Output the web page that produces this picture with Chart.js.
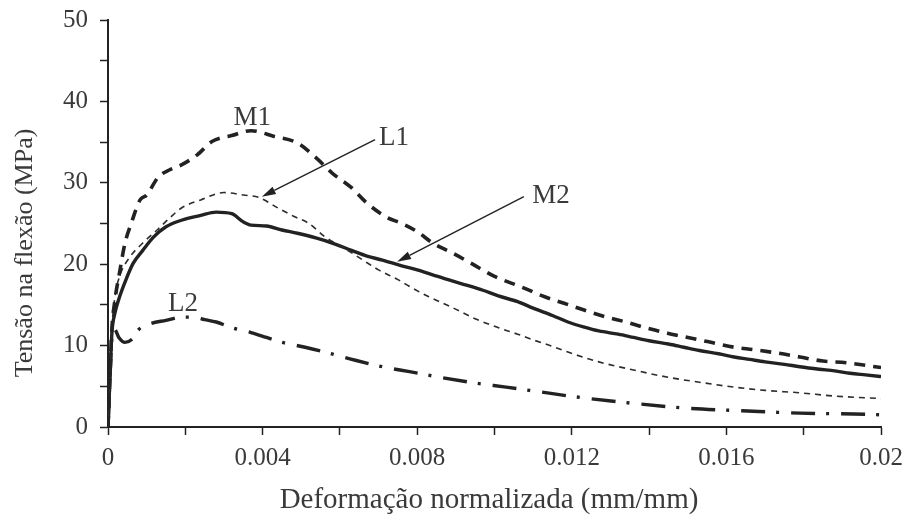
<!DOCTYPE html>
<html>
<head>
<meta charset="utf-8">
<script src="https://cdn.jsdelivr.net/npm/chart.js@4"></script>
<style>
  html, body { margin: 0; padding: 0; background: #fff; }
  #wrap { width: 908px; height: 519px; }
</style>
</head>
<body>
<div id="wrap"><canvas id="chart" width="908" height="519"></canvas></div>
<script>
'use strict';

// strain (mm/mm) / stress (MPa)
const m1X = [0, 0.00005, 0.0001, 0.00018, 0.0003, 0.00044, 0.0006, 0.00083, 0.001, 0.0013, 0.0016, 0.0019, 0.0023, 0.0027, 0.0032, 0.0037, 0.0043, 0.0049, 0.0054, 0.0058, 0.0063, 0.0067, 0.0072, 0.0076, 0.008, 0.0084, 0.0089, 0.0094, 0.01, 0.0107, 0.0113, 0.0118, 0.0123, 0.0129, 0.0134, 0.0139, 0.0145, 0.0151, 0.0156, 0.0162, 0.0167, 0.0173, 0.0179, 0.0185, 0.0191, 0.0197, 0.02];
const m1Y = [0, 6, 12, 15.6, 19.0, 22.6, 25.0, 27.9, 28.5, 30.7, 31.6, 32.2, 33.4, 35.1, 35.8, 36.4, 35.7, 34.9, 33.0, 31.2, 29.4, 27.5, 25.8, 25.0, 24.0, 22.6, 21.4, 20.1, 18.5, 17.2, 16.0, 15.2, 14.4, 13.5, 12.9, 12.2, 11.5, 10.9, 10.4, 9.8, 9.5, 9.1, 8.6, 8.1, 7.9, 7.5, 7.3];

const l1X = [0, 0.00005, 0.0001, 0.00018, 0.0003, 0.00057, 0.0009, 0.00127, 0.0016, 0.0019, 0.0024, 0.003, 0.0035, 0.0039, 0.0044, 0.0048, 0.0052, 0.0056, 0.0061, 0.0066, 0.007, 0.0075, 0.0079, 0.0083, 0.0089, 0.0095, 0.0101, 0.0106, 0.011, 0.0115, 0.0119, 0.0127, 0.0136, 0.0145, 0.0153, 0.0162, 0.017, 0.0179, 0.0188, 0.02];
const l1Y = [0, 6, 12, 16.0, 18.5, 20.9, 22.6, 24.2, 25.7, 26.9, 27.9, 28.8, 28.5, 28.2, 26.9, 25.9, 25.0, 23.4, 22.0, 20.5, 19.3, 18.1, 17.0, 16.0, 14.7, 13.3, 12.2, 11.4, 10.7, 9.9, 9.2, 8.0, 7.0, 6.1, 5.5, 4.9, 4.5, 4.2, 3.8, 3.5];

const m2X = [0, 0.00005, 0.0001, 0.00018, 0.0003, 0.00049, 0.00065, 0.0009, 0.00117, 0.0015, 0.0019, 0.0024, 0.0028, 0.0032, 0.0035, 0.0037, 0.0041, 0.0045, 0.0049, 0.0054, 0.0058, 0.0063, 0.0067, 0.0071, 0.0076, 0.008, 0.0084, 0.0088, 0.0093, 0.0097, 0.0101, 0.0106, 0.011, 0.0115, 0.0119, 0.0123, 0.0127, 0.0132, 0.0136, 0.014, 0.0145, 0.0149, 0.0153, 0.0158, 0.0162, 0.0166, 0.017, 0.0175, 0.0179, 0.0184, 0.0188, 0.0192, 0.0196, 0.02];
const m2Y = [0, 6, 11.5, 14.0, 16.0, 18.4, 20.1, 21.7, 23.3, 24.6, 25.4, 26.0, 26.4, 26.2, 25.2, 24.8, 24.7, 24.2, 23.8, 23.2, 22.6, 21.7, 21.0, 20.5, 19.8, 19.3, 18.7, 18.1, 17.4, 16.8, 16.1, 15.4, 14.6, 13.7, 12.9, 12.3, 11.8, 11.4, 11.0, 10.6, 10.2, 9.8, 9.4, 9.0, 8.6, 8.3, 8.0, 7.7, 7.4, 7.1, 6.9, 6.6, 6.4, 6.2];

const l2X = [0, 0.00005, 0.0001, 0.00017, 0.00028, 0.00044, 0.00065, 0.00078, 0.0011, 0.0015, 0.0019, 0.0022, 0.0025, 0.0028, 0.0032, 0.0037, 0.0041, 0.0045, 0.0051, 0.0057, 0.0064, 0.0071, 0.0078, 0.0086, 0.0095, 0.0103, 0.0112, 0.0121, 0.0136, 0.015, 0.0164, 0.0179, 0.0193, 0.02];
const l2Y = [0, 6, 11.0, 12.0, 11.0, 10.4, 10.9, 11.9, 12.7, 13.1, 13.5, 13.5, 13.2, 12.9, 12.2, 11.6, 11.0, 10.4, 9.8, 9.1, 8.2, 7.4, 6.8, 6.1, 5.4, 4.9, 4.3, 3.7, 2.9, 2.3, 2.0, 1.7, 1.6, 1.5];

const xTicks = [0, 0.002, 0.004, 0.006, 0.008, 0.01, 0.012, 0.014, 0.016, 0.018, 0.02];
const xTickLabels = ['0', '', '0.004', '', '0.008', '', '0.012', '', '0.016', '', '0.02'];
const yTicks = [0, 5, 10, 15, 20, 25, 30, 35, 40, 45, 50];
const yTickLabels = ['0', '', '10', '', '20', '', '30', '', '40', '', '50'];

// curve labels: [text, x, y (baseline centre)]
const curveLabels = [
    ['M1', 0.00373, 37.1],
    ['L1', 0.0074, 34.6],
    ['M2', 0.01146, 27.5],
    ['L2', 0.00194, 14.2],
];
// arrows: [fromX, fromY, toX, toY]
const arrows = [
    [0.00691, 35.3, 0.00398, 28.3],
    [0.01076, 28.3, 0.00748, 20.3],
];

const INK = '#222';
const TXT = '#3a3a3a';
const SERIF = "'Liberation Serif', 'Times New Roman', serif";

const pts = (xs, ys) => xs.map((x, i) => ({ x, y: ys[i] }));

const overlay = {
    id: 'overlay',
    afterDraw(chart) {
        const { ctx, scales: { x, y } } = chart;
        ctx.save();
        ctx.fillStyle = TXT;

        // axis titles
        ctx.font = '29px ' + SERIF;
        ctx.textAlign = 'center';
        ctx.textBaseline = 'alphabetic';
        ctx.fillText('Deformação normalizada (mm/mm)', 489, 508);

        ctx.save();
        ctx.translate(32, 253);
        ctx.rotate(-Math.PI / 2);
        ctx.font = '26px ' + SERIF;
        ctx.fillText('Tensão na flexão (MPa)', 0, 0);
        ctx.restore();

        // curve labels
        ctx.font = '27px ' + SERIF;
        curveLabels.forEach(([t, vx, vy]) => {
            ctx.fillText(t, x.getPixelForValue(vx), y.getPixelForValue(vy));
        });

        // arrows
        ctx.strokeStyle = INK;
        ctx.fillStyle = INK;
        ctx.lineWidth = 1.4;
        arrows.forEach(([x0, y0, x1, y1]) => {
            const ax = x.getPixelForValue(x0), ay = y.getPixelForValue(y0);
            const bx = x.getPixelForValue(x1), by = y.getPixelForValue(y1);
            const ang = Math.atan2(by - ay, bx - ax);
            const len = 14, half = 4;
            const hx = bx - len * Math.cos(ang), hy = by - len * Math.sin(ang);
            ctx.beginPath();
            ctx.moveTo(ax, ay);
            ctx.lineTo(hx, hy);
            ctx.stroke();
            ctx.beginPath();
            ctx.moveTo(bx, by);
            ctx.lineTo(hx + half * Math.sin(ang), hy - half * Math.cos(ang));
            ctx.lineTo(hx - half * Math.sin(ang), hy + half * Math.cos(ang));
            ctx.closePath();
            ctx.fill();
        });
        ctx.restore();
    }
};

const axisCommon = {
    grid: { display: true, drawOnChartArea: false, drawTicks: true, tickLength: 8, tickColor: INK, tickWidth: 1.5 },
    border: { display: true, color: INK, width: 2 },
};

new Chart(document.getElementById('chart'), {
    type: 'line',
    data: {
        datasets: [
            { label: 'M1', data: pts(m1X, m1Y), borderColor: INK, borderWidth: 3.6, borderDash: [11, 8] },
            { label: 'L1', data: pts(l1X, l1Y), borderColor: '#2c2c2c', borderWidth: 1.6, borderDash: [6, 5] },
            { label: 'M2', data: pts(m2X, m2Y), borderColor: INK, borderWidth: 3.4 },
            { label: 'L2', data: pts(l2X, l2Y), borderColor: INK, borderWidth: 3.4, borderDash: [24, 11, 3, 12] },
        ]
    },
    options: {
        responsive: false,
        animation: false,
        parsing: false,
        elements: { point: { radius: 0 }, line: { cubicInterpolationMode: 'monotone', fill: false } },
        layout: { padding: { top: 20, right: 27, left: 0, bottom: 0 } },
        plugins: { legend: { display: false }, tooltip: { enabled: false } },
        scales: {
            x: {
                type: 'linear', min: 0, max: 0.02,
                ...axisCommon,
                afterBuildTicks: s => { s.ticks = xTicks.map(v => ({ value: v })); },
                afterFit: s => { s.height = 92; s.paddingLeft = 0; s.paddingRight = 0; },
                ticks: {
                    autoSkip: false, maxRotation: 0, padding: 8, color: TXT,
                    font: { family: SERIF, size: 25 },
                    callback: (v, i) => xTickLabels[i],
                },
            },
            y: {
                type: 'linear', min: 0, max: 50,
                ...axisCommon,
                afterBuildTicks: s => { s.ticks = yTicks.map(v => ({ value: v })); },
                afterFit: s => { s.width = 108; s.paddingTop = 0; s.paddingBottom = 0; },
                ticks: {
                    autoSkip: false, padding: 12, color: TXT,
                    font: { family: SERIF, size: 25 },
                    callback: (v, i) => yTickLabels[i],
                },
            },
        },
    },
    plugins: [overlay],
});
</script>
</body>
</html>
